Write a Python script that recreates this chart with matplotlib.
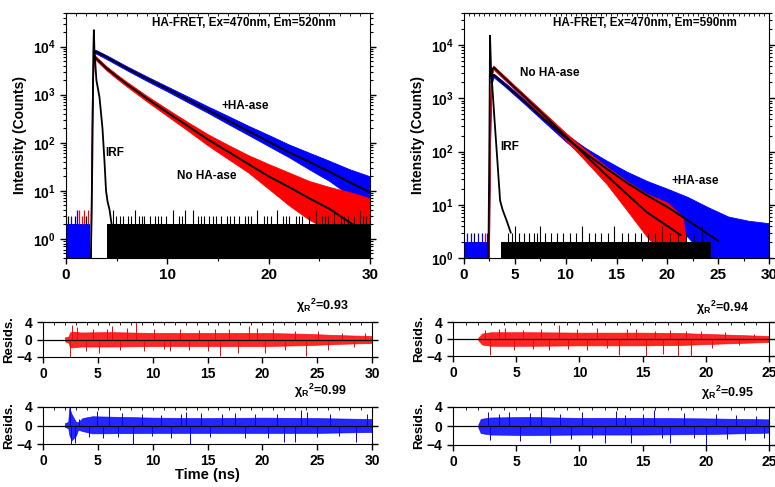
import matplotlib.pyplot as plt
from matplotlib.ticker import MultipleLocator, LogLocator, NullFormatter

plt.rcParams["font.family"] = ["Liberation Sans", "DejaVu Sans"]
plt.rcParams["font.weight"] = "bold"
plt.rcParams["axes.labelweight"] = "bold"
plt.rcParams["mathtext.fontset"] = "custom"
plt.rcParams["mathtext.rm"] = "Liberation Sans:bold"
plt.rcParams["mathtext.bf"] = "Liberation Sans:bold"
plt.rcParams["mathtext.it"] = "Liberation Sans:bold"

BLUE = "#0000ff"
RED = "#ff0000"

# ------------------------------------------------------------
# Em = 520 nm decays (counts vs ns)
# ------------------------------------------------------------
a_blue_t = [2.45, 2.55, 2.65, 2.8, 3.0, 4, 6, 8, 10, 12, 14, 16, 18, 20, 22, 24, 26, 28, 30]
a_blue_hi = [3, 800, 5000, 8600, 8400, 6600, 3900, 2380, 1480, 920, 570, 360, 225, 145, 92, 62, 42, 28, 20]
a_blue_lo = [0.3, 100, 2500, 7300, 7100, 5500, 3220, 1920, 1170, 700, 420, 245, 145, 85, 50, 28, 16, 8, 4]
a_blue_fit_t = [2.8, 3.0, 4, 6, 8, 10, 12, 14, 16, 18, 20, 22, 24, 26, 28, 30]
a_blue_fit = [7940, 7760, 6030, 3550, 2140, 1320, 794, 479, 288, 174, 105, 63, 40, 25, 15, 9.3]

a_red_t = [2.45, 2.55, 2.65, 2.8, 3.0, 4, 5, 6, 8, 10, 12, 14, 16, 18, 20, 22, 24, 26, 28.3, 30]
a_red_hi = [3, 600, 4000, 6800, 6100, 3900, 2650, 1850, 940, 500, 270, 150, 90, 55, 36, 24, 16, 12, 9, 7]
a_red_lo = [0.3, 80, 2000, 5800, 5100, 3200, 2150, 1480, 720, 360, 180, 88, 46, 24, 11, 5, 2.5, 1.5, 1, 1]
a_red_fit_t = [2.8, 3.0, 4, 5, 6, 8, 10, 12, 14, 16, 18, 20, 22, 24, 26, 28.3]
a_red_fit = [6300, 5600, 3550, 2400, 1660, 830, 427, 224, 117, 65, 36, 20, 12, 7, 4.2, 2.0]

a_irf_t = [2.45, 2.6, 2.7, 2.75, 2.8, 3.0, 3.3, 3.6, 3.8, 3.95, 4.1, 4.3, 4.5]
a_irf = [0.3, 50, 8000, 22000, 9000, 2000, 900, 200, 40, 10, 6, 4, 2]

# background channels of the IRF above the 2-count floor
a_bg_t = [4.6, 4.9, 5.3, 5.6, 6.1, 6.4, 6.8, 7.2, 7.5, 7.7, 8.3, 8.8, 9.1, 9.4, 9.9, 10.6,
          11.2, 11.4, 11.7, 12.5, 13.0, 13.3, 13.6, 14.1, 14.5, 14.8, 15.3, 15.9, 16.2,
          16.6, 17.1, 17.7, 18.0, 18.3, 18.8, 19.5, 19.8, 20.2, 20.8, 21.4, 21.7, 22.0,
          22.7, 23.0, 23.3, 24.0, 24.7, 25.3, 25.6, 25.9, 26.4, 27.1, 27.4, 27.8, 28.4,
          29.0, 29.3, 29.6]
a_bg_v = [4, 3, 3, 3, 3, 3, 4, 3, 3, 3, 3, 3, 3, 3, 3, 4, 3, 3, 4, 4, 3, 3, 3, 3, 3, 3,
          3, 3, 3, 3, 3, 3, 3, 3, 4, 3, 3, 3, 4, 3, 3, 3, 3, 3, 3, 3, 4, 3, 3, 3, 4, 3, 3,
          3, 3, 4, 3, 3]

# pre-trigger channels (0 - 2.4 ns)
a_pre_t = [0.2, 0.5, 0.9, 1.1, 1.3, 1.6, 1.75, 2.0, 2.2]
a_pre_v = [3, 3, 3, 4, 4, 3, 4, 3, 4]
a_pre_c = ["k", BLUE, "k", BLUE, RED, RED, RED, "k", RED]

# ------------------------------------------------------------
# Em = 590 nm decays
# ------------------------------------------------------------
b_blue_t = [2.45, 2.55, 2.7, 2.9, 4, 6, 8, 10, 12, 14, 16, 18, 20, 22, 24, 26, 28, 30]
b_blue_hi = [3, 500, 2600, 2900, 1980, 940, 440, 215, 115, 68, 42, 28, 20, 14, 9, 6, 5, 4.5]
b_blue_lo = [0.9, 100, 1800, 2500, 1680, 770, 345, 155, 75, 36, 18, 9, 4.5, 2.5, 0.9, 0.9, 0.9, 0.9]
b_blue_fit_t = [2.7, 2.8, 2.95, 4, 6, 8, 10, 12, 14, 16, 18, 20, 22, 25]
b_blue_fit = [2000, 2600, 2750, 1820, 851, 389, 182, 91, 48, 26, 15, 9.1, 5.1, 2.1]

b_red_t = [2.45, 2.55, 2.7, 2.9, 4, 6, 8, 10, 12, 14, 16, 18, 20, 21.5, 22]
b_red_hi = [3, 700, 3500, 4100, 2600, 1150, 510, 225, 105, 52, 28, 16, 11, 6, 1.2]
b_red_lo = [0.9, 120, 2500, 3500, 2200, 960, 405, 165, 65, 25, 8, 2.5, 0.9, 0.9, 0.9]
b_red_fit_t = [2.7, 2.8, 2.95, 4, 6, 8, 10, 12, 14, 16, 18, 20, 21.3]
b_red_fit = [2700, 3500, 3800, 2400, 1050, 457, 195, 83, 36, 16, 7.2, 4.0, 2.7]

b_irf_t = [2.4, 2.5, 2.56, 2.65, 3.0, 3.3, 3.55, 3.8, 4.2, 4.6]
b_irf = [0.9, 200, 15000, 4000, 400, 60, 12, 8, 5, 3]

b_bg_t = [4.3, 4.7, 5.0, 5.4, 5.9, 6.4, 6.9, 7.2, 7.5, 8.0, 8.6, 9.1, 9.7, 10.4, 11.0,
          11.6, 12.3, 12.9, 13.5, 14.2, 14.8, 15.5, 16.1, 16.8, 17.4, 18.1, 18.8, 19.5,
          20.3, 21.0, 21.8, 22.6, 23.4]
b_bg_v = [3, 3, 4, 3, 3, 3, 3, 3, 4, 3, 3, 3, 3, 3, 3, 4, 3, 3, 3, 3, 4, 3, 3, 3, 3, 3,
          3, 4, 3, 3, 3, 3, 4]

b_pre_t = [0.3, 0.7, 1.0, 1.4, 1.8, 2.1, 2.3]
b_pre_v = [3, 3, 3, 3, 3, 3, 3]
b_pre_c = [BLUE, BLUE, "k", BLUE, BLUE, RED, BLUE]

# ------------------------------------------------------------
# weighted residuals
# ------------------------------------------------------------
r1_t = [2.0, 2.35, 2.45, 2.7, 3.5, 6, 10, 15, 20, 24, 27, 30]
r1_hi = [0.5, 0.7, 1.6, 1.8, 1.6, 1.7, 1.5, 1.5, 1.5, 1.3, 1.0, 0.8]
r1_lo = [-0.4, -0.8, -1.8, -1.8, -1.6, -1.6, -1.5, -1.5, -1.5, -1.3, -1.0, -0.8]
r1_spk_t = [2.45, 2.6, 3.1, 3.9, 4.6, 5.1, 5.8, 6.3, 7.0, 7.7, 8.5, 9.2, 10.1, 11.0, 11.6,
            12.5, 13.3, 14.2, 15.0, 15.7, 16.1, 17.0, 17.8, 18.8, 19.5, 20.2, 21.0, 22.1,
            23.0, 24.0, 25.1, 26.0, 27.3, 28.4, 29.4]
r1_spk_v = [-4.0, 3.3, 2.8, -2.6, 2.3, -3.0, 2.5, 3.2, -2.4, 2.6, 4.0, -2.7, 2.4, -2.2, -2.6,
            2.5, -2.3, 2.2, -2.7, 2.4, -3.8, 2.3, -3.0, 3.1, 2.6, -3.0, 2.3, -2.5, 2.0, -3.8,
            1.9, -2.5, 1.6, -1.7, 1.5]

r2_t = [2.0, 2.3, 2.4, 2.6, 3.0, 3.2, 3.6, 4.5, 10, 15, 20, 25, 30]
r2_hi = [0.5, 0.8, 3.8, 2.5, 0.8, 0.7, 1.6, 2.0, 1.7, 1.6, 1.7, 1.6, 1.4]
r2_lo = [-0.3, -0.6, -2.0, -3.2, -2.2, -0.9, -1.2, -1.7, -1.6, -1.6, -1.6, -1.6, -1.4]
r2_spk_t = [2.45, 2.55, 2.95, 3.3, 4.2, 4.9, 5.5, 6.0, 6.8, 7.2, 8.2, 9.0, 9.9, 10.8, 11.7,
            12.6, 13.0, 13.4, 14.4, 15.2, 16.3, 17.5, 18.4, 19.3, 20.5, 21.3, 22.0, 23.0,
            23.5, 24.1, 25.0, 26.2, 27.0, 28.5, 29.5]
r2_spk_v = [4.0, -4.0, -3.8, 1.5, -2.5, 3.2, -2.8, 3.6, -2.5, 2.8, -4.0, 2.5, -2.3, 2.2, -2.6,
            2.4, 3.0, -4.0, 2.6, -2.4, 2.5, 2.8, -2.6, 2.5, -2.7, 2.4, -3.5, -3.6, 3.3, 3.0,
            -2.4, 2.5, -2.3, -3.5, 2.4]

r3_t = [2.0, 2.3, 3, 6, 10, 15, 18, 21, 23, 25]
r3_hi = [0.3, 1.3, 1.6, 1.6, 1.5, 1.5, 1.4, 1.1, 0.9, 0.7]
r3_lo = [-0.3, -1.3, -1.6, -1.6, -1.5, -1.5, -1.4, -1.1, -0.9, -0.7]
r3_spk_t = [2.5, 2.9, 3.6, 4.1, 4.8, 5.5, 6.3, 7.0, 7.6, 8.4, 9.1, 9.8, 10.6, 11.4, 12.2,
            13.1, 13.8, 14.5, 15.3, 16.0, 16.6, 17.2, 17.8, 18.4, 18.8, 19.6, 20.5, 21.5,
            22.6, 23.8]
r3_spk_v = [2.2, -3.8, 2.4, 2.5, -2.6, 2.2, -2.4, 2.3, -2.5, 3.2, -2.3, 2.4, -2.5, 2.5, -2.2,
            -3.8, 2.3, 2.4, -4.0, 2.0, -3.6, 2.2, -4.0, 1.9, -4.0, 2.0, -2.2, 1.6, -1.5, 1.2]

r4_t = [2.0, 2.2, 3, 6, 10, 15, 20, 25]
r4_hi = [0.3, 1.5, 1.8, 1.9, 1.7, 1.7, 1.6, 1.4]
r4_lo = [-0.3, -1.5, -1.8, -1.9, -1.8, -1.8, -1.7, -1.4]
r4_spk_t = [2.8, 2.9, 3.6, 4.4, 5.3, 6.1, 7.0, 7.7, 8.5, 9.3, 10.2, 11.0, 12.0, 12.9, 13.6,
            14.1, 15.0, 15.9, 16.5, 17.2, 18.3, 19.1, 20.0, 20.8, 21.7, 22.4, 23.1, 24.0, 24.6]
r4_spk_v = [3.0, -3.0, 2.6, 3.0, -3.2, 2.7, 3.4, -3.5, 2.5, -2.8, 2.9, -2.6, -3.5, 3.2, 2.4,
            -3.6, 2.6, 3.4, -2.6, -3.5, 2.8, -2.5, -4.0, 2.6, -2.8, 2.4, -3.0, 2.2, -2.6]

W, H = 775, 487


def box(x0, y0, x1, y1):
    # pixel box (top-left origin) -> figure fraction rect
    return [x0 / W, 1 - y1 / H, (x1 - x0) / W, (y1 - y0) / H]


def label(fig, x, y, s, size=8.5, **kw):
    fig.text(x / W, 1 - y / H, s, fontsize=size, fontweight="bold",
             ha="center", va="center", **kw)


def frame(ax, xmajor, xminor):
    ax.xaxis.set_major_locator(MultipleLocator(xmajor))
    ax.xaxis.set_minor_locator(MultipleLocator(xminor))
    ax.tick_params(which="major", length=4, width=1)
    ax.tick_params(which="minor", length=2, width=0.8)
    for side in ("top", "right"):
        ax.spines[side].set_linewidth(0.8)
    top = ax.secondary_xaxis("top")
    top.xaxis.set_minor_locator(MultipleLocator(xminor / 5))
    top.xaxis.set_major_locator(MultipleLocator(xmajor))
    top.tick_params(which="both", direction="in", labeltop=False, length=2, width=0.6)
    ax.tick_params(right=True, which="both")


def decay_panel(ax, floor, blue, red, irf, bg, pre, bg_span, pre_end, ymax):
    ax.set_yscale("log")
    # pre-trigger background
    ax.fill_between([0, pre_end], floor, 2, color=BLUE, lw=0)
    for t, v, c in zip(*pre):
        ax.vlines(t, 2, v, color=c, lw=0.9)
    # decays
    bt, bhi, blo, bft, bf = blue
    rt, rhi, rlo, rft, rf = red
    ax.fill_between(bt, blo, bhi, color=BLUE, lw=0.6, edgecolor=BLUE)
    ax.fill_between(rt, rlo, rhi, color=RED, lw=0.6, edgecolor=RED)
    # IRF floor and channels above it
    ax.fill_between(bg_span, floor, 2, color="k", lw=0)
    ax.vlines(bg[0], 2, bg[1], color="k", lw=0.8)
    ax.plot(irf[0], irf[1], color="k", lw=1.3)
    ax.plot(bft, bf, color="k", lw=1.4)
    ax.plot(rft, rf, color="k", lw=1.4)
    ax.set_xlim(0, 30)
    ax.set_ylim(floor, ymax)
    ax.yaxis.set_major_locator(LogLocator(base=10, numticks=10))
    ax.yaxis.set_minor_locator(LogLocator(base=10, subs=range(2, 10), numticks=10))
    ax.yaxis.set_minor_formatter(NullFormatter())
    ax.set_ylabel("Intensity (Counts)", fontsize=10, labelpad=4)
    ax.tick_params(axis="x", labelsize=11)
    ax.tick_params(axis="y", labelsize=10)


def resid_panel(ax, t, hi, lo, spk_t, spk_v, color, xmax):
    ax.fill_between(t, lo, hi, color=color, lw=0.5, edgecolor=color, alpha=0.85)
    ax.vlines(spk_t, 0, spk_v, color=color, lw=0.7)
    ax.axhline(0, color="k", lw=0.9)
    ax.set_xlim(0, xmax)
    ax.set_ylim(-4, 4)
    ax.set_yticks([-4, 0, 4])
    ax.set_ylabel("Resids.", fontsize=9.5, labelpad=1)
    ax.tick_params(labelsize=10)


fig = plt.figure(figsize=(W / 100, H / 100), dpi=100)

ax_a = fig.add_axes(box(66, 13, 370, 258))
decay_panel(ax_a, 0.4,
            (a_blue_t, a_blue_hi, a_blue_lo, a_blue_fit_t, a_blue_fit),
            (a_red_t, a_red_hi, a_red_lo, a_red_fit_t, a_red_fit),
            (a_irf_t, a_irf), (a_bg_t, a_bg_v), (a_pre_t, a_pre_v, a_pre_c),
            [4.05, 30], 2.35, 5e4)
frame(ax_a, 10, 5)

ax_b = fig.add_axes(box(464, 13, 769, 258))
decay_panel(ax_b, 1.0,
            (b_blue_t, b_blue_hi, b_blue_lo, b_blue_fit_t, b_blue_fit),
            (b_red_t, b_red_hi, b_red_lo, b_red_fit_t, b_red_fit),
            (b_irf_t, b_irf), (b_bg_t, b_bg_v), (b_pre_t, b_pre_v, b_pre_c),
            [3.6, 24.3], 2.45, 4e4)
frame(ax_b, 5, 2.5)

r_axes = [
    (box(43, 322, 372, 357), r1_t, r1_hi, r1_lo, r1_spk_t, r1_spk_v, RED, 30, False),
    (box(43, 407, 372, 444), r2_t, r2_hi, r2_lo, r2_spk_t, r2_spk_v, BLUE, 30, True),
    (box(453, 322, 769, 356), r3_t, r3_hi, r3_lo, r3_spk_t, r3_spk_v, RED, 25, False),
    (box(453, 407, 769, 445), r4_t, r4_hi, r4_lo, r4_spk_t, r4_spk_v, BLUE, 25, False),
]
for rect, t, hi, lo, st, sv, c, xmax, with_xlabel in r_axes:
    ax = fig.add_axes(rect)
    resid_panel(ax, t, hi, lo, st, sv, c, xmax)
    frame(ax, 5, 5)
    if with_xlabel:
        ax.set_xlabel("Time (ns)", fontsize=10.5, labelpad=0)

label(fig, 244, 23, "HA-FRET, Ex=470nm, Em=520nm")
label(fig, 245, 106, "+HA-ase")
label(fig, 115, 153, "IRF")
label(fig, 207, 176, "No HA-ase")
label(fig, 645, 23, "HA-FRET, Ex=470nm, Em=590nm")
label(fig, 550, 73, "No HA-ase")
label(fig, 510, 147, "IRF")
label(fig, 695, 181, "+HA-ase")

label(fig, 322, 306, r"χ$_R$$^2$=0.93", size=9)
label(fig, 320, 391, r"χ$_R$$^2$=0.99", size=9)
label(fig, 723, 308, r"χ$_R$$^2$=0.94", size=9)
label(fig, 727, 393, r"χ$_R$$^2$=0.95", size=9)

fig.savefig("out.png", dpi=100)
